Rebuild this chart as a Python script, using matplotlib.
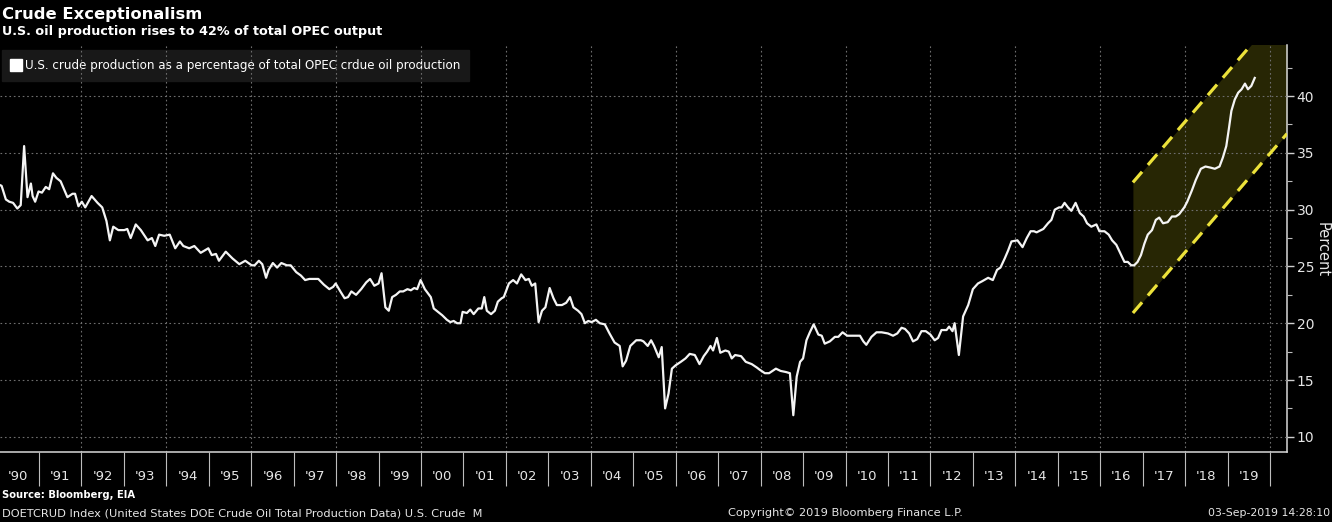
import matplotlib

matplotlib.use("Agg")
import matplotlib.pyplot as plt
from matplotlib.lines import Line2D
from matplotlib.ticker import FixedLocator, MultipleLocator, NullFormatter

# U.S. crude production as % of total OPEC crude production
dates = [
    1990.06, 1990.12, 1990.22, 1990.30, 1990.39, 1990.49, 1990.57, 1990.65, 1990.73, 1990.81,
    1990.85, 1990.91, 1990.99, 1991.07, 1991.16, 1991.24, 1991.33, 1991.41, 1991.51, 1991.67,
    1991.79, 1991.85, 1991.93, 1992.01, 1992.09, 1992.24, 1992.38, 1992.49, 1992.59, 1992.67,
    1992.75, 1992.87, 1993.01, 1993.08, 1993.16, 1993.28, 1993.40, 1993.56, 1993.66, 1993.74,
    1993.83, 1993.95, 1994.08, 1994.21, 1994.32, 1994.40, 1994.54, 1994.66, 1994.81, 1994.99,
    1995.07, 1995.17, 1995.24, 1995.40, 1995.56, 1995.72, 1995.86, 1996.01,
    1996.08, 1996.18, 1996.26, 1996.35, 1996.41, 1996.51, 1996.61, 1996.71, 1996.84, 1996.93,
    1997.06, 1997.17, 1997.27, 1997.37, 1997.58, 1997.71, 1997.84, 1997.93, 1997.99, 1998.10,
    1998.20, 1998.28, 1998.36, 1998.47, 1998.59, 1998.71, 1998.80, 1998.90, 1999.00, 1999.07,
    1999.16, 1999.24, 1999.32, 1999.41, 1999.50, 1999.58, 1999.68, 1999.76, 1999.84, 1999.91,
    1999.99, 2000.09, 2000.23, 2000.30, 2000.40, 2000.50, 2000.61, 2000.69, 2000.77, 2000.85,
    2000.93, 2000.98, 2001.08, 2001.16, 2001.24, 2001.35, 2001.43, 2001.49, 2001.55, 2001.65,
    2001.74, 2001.81, 2001.90,
    2001.95, 2002.07, 2002.17, 2002.26, 2002.36, 2002.46, 2002.54, 2002.61, 2002.69, 2002.77,
    2002.85, 2002.93, 2003.03, 2003.12, 2003.20, 2003.32, 2003.42, 2003.51, 2003.59, 2003.70,
    2003.78, 2003.86, 2003.94, 2004.02, 2004.12, 2004.21, 2004.33, 2004.44, 2004.56, 2004.68,
    2004.75, 2004.83, 2004.93, 2005.07, 2005.18, 2005.24, 2005.34, 2005.42, 2005.49, 2005.60,
    2005.67, 2005.75, 2005.83, 2005.91, 2006.00, 2006.12, 2006.23, 2006.33, 2006.45, 2006.56,
    2006.66, 2006.74, 2006.82, 2006.88, 2006.97, 2007.05, 2007.17, 2007.25, 2007.32, 2007.40,
    2007.54, 2007.65, 2007.79, 2007.91,
    2007.98, 2008.10, 2008.20, 2008.36, 2008.47, 2008.60, 2008.69, 2008.77, 2008.85, 2008.93,
    2009.00, 2009.08, 2009.16, 2009.25, 2009.36, 2009.44, 2009.51, 2009.63, 2009.75, 2009.83,
    2009.93, 2010.04, 2010.16, 2010.34, 2010.42, 2010.49, 2010.61, 2010.73, 2010.85, 2011.00,
    2011.12, 2011.22, 2011.32, 2011.40, 2011.50, 2011.59, 2011.69, 2011.79, 2011.89, 2012.00,
    2012.10, 2012.18, 2012.26, 2012.38, 2012.44, 2012.52, 2012.57, 2012.67, 2012.77, 2012.89,
    2013.00, 2013.12, 2013.22, 2013.36, 2013.47, 2013.57, 2013.65, 2013.75, 2013.83, 2013.91,
    2014.05, 2014.17, 2014.27, 2014.36, 2014.44, 2014.50, 2014.66, 2014.77, 2014.85, 2014.93,
    2015.03, 2015.09, 2015.16, 2015.24, 2015.32, 2015.42, 2015.52, 2015.61, 2015.69, 2015.79,
    2015.91, 2015.98, 2016.10, 2016.20, 2016.28, 2016.38, 2016.47, 2016.57, 2016.65, 2016.73,
    2016.80, 2016.88, 2016.96, 2017.04, 2017.12, 2017.22, 2017.31, 2017.39, 2017.48, 2017.59,
    2017.69, 2017.78, 2017.86, 2017.98, 2018.05, 2018.16, 2018.25, 2018.37, 2018.48, 2018.60,
    2018.70, 2018.81, 2018.89, 2018.97, 2019.03, 2019.09, 2019.17, 2019.25, 2019.33, 2019.41,
    2019.48, 2019.56, 2019.64,
]
pct = [
    32.2, 32.1, 30.9, 30.7, 30.6, 30.1, 30.4, 35.6, 31.1, 32.3,
    31.2, 30.7, 31.6, 31.5, 32.0, 31.8, 33.2, 32.8, 32.5, 31.1,
    31.4, 31.4, 30.3, 30.7, 30.2, 31.2, 30.6, 30.2, 29.0, 27.3,
    28.5, 28.2, 28.2, 28.3, 27.5, 28.7, 28.2, 27.3, 27.5, 26.8,
    27.8, 27.7, 27.8, 26.6, 27.2, 26.8, 26.6, 26.8, 26.2, 26.6,
    26.0, 26.1, 25.5, 26.3, 25.7, 25.2, 25.5, 25.1,
    25.1, 25.5, 25.2, 24.0, 24.7, 25.3, 24.9, 25.3, 25.1, 25.1,
    24.5, 24.2, 23.8, 23.9, 23.9, 23.4, 23.0, 23.2, 23.5, 22.8,
    22.2, 22.3, 22.8, 22.5, 23.0, 23.6, 23.9, 23.3, 23.5, 24.4,
    21.4, 21.1, 22.3, 22.5, 22.8, 22.8, 23.0, 22.9, 23.1, 23.0,
    23.8, 23.0, 22.3, 21.3, 21.0, 20.7, 20.3, 20.1, 20.2, 20.0,
    20.0, 21.0, 20.9, 21.2, 20.8, 21.3, 21.3, 22.3, 21.1, 20.8,
    21.1, 21.9, 22.2,
    22.3, 23.5, 23.8, 23.5, 24.3, 23.8, 23.9, 23.3, 23.5, 20.1,
    21.1, 21.4, 23.1, 22.2, 21.6, 21.6, 21.8, 22.3, 21.4, 21.1,
    20.8, 20.0, 20.2, 20.1, 20.3, 20.0, 19.9, 19.1, 18.3, 18.0,
    16.2, 16.7, 18.0, 18.5, 18.5, 18.4, 18.0, 18.5, 18.0, 17.0,
    17.9, 12.5, 13.8, 16.0, 16.3, 16.6, 16.9, 17.3, 17.2, 16.4,
    17.1, 17.5, 18.0, 17.6, 18.7, 17.4, 17.6, 17.5, 16.9, 17.2,
    17.1, 16.6, 16.4, 16.1,
    15.9, 15.6, 15.6, 16.0, 15.8, 15.7, 15.6, 11.9, 15.3, 16.6,
    16.9, 18.5, 19.2, 19.9, 19.0, 18.9, 18.2, 18.4, 18.8, 18.8,
    19.2, 18.9, 18.9, 18.9, 18.4, 18.1, 18.8, 19.2, 19.2, 19.1,
    18.9, 19.1, 19.6, 19.5, 19.1, 18.4, 18.6, 19.3, 19.3, 19.0,
    18.5, 18.7, 19.4, 19.4, 19.7, 19.3, 20.0, 17.2, 20.6, 21.6,
    23.0, 23.5, 23.7, 24.0, 23.8, 24.7, 24.9, 25.7, 26.4, 27.2,
    27.3, 26.7, 27.5, 28.1, 28.1, 28.0, 28.3, 28.8, 29.1, 30.0,
    30.2, 30.2, 30.6, 30.2, 29.9, 30.6, 29.7, 29.4, 28.8, 28.5,
    28.7, 28.1, 28.1, 27.8, 27.3, 26.9, 26.2, 25.4, 25.4, 25.1,
    25.1, 25.4, 26.0, 27.0, 27.8, 28.2, 29.1, 29.3, 28.8, 28.9,
    29.4, 29.4, 29.6, 30.2, 30.7, 31.7, 32.6, 33.6, 33.8, 33.7,
    33.6, 33.8, 34.6, 35.6, 37.1, 38.7, 39.7, 40.3, 40.6, 41.1,
    40.6, 40.9, 41.6,
]

# trend channel drawn over the 2016-2019 run-up
channel_start = 2016.77
channel_end = 2020.40
channel_low = 20.9
channel_high = 32.4
channel_slope = 4.35  # percentage points per year

year_labels = [
    "'90", "'91", "'92", "'93", "'94", "'95", "'96", "'97", "'98", "'99",
    "'00", "'01", "'02", "'03", "'04", "'05", "'06", "'07", "'08", "'09",
    "'10", "'11", "'12", "'13", "'14", "'15", "'16", "'17", "'18", "'19",
]
y_ticks = [10, 15, 20, 25, 30, 35, 40]

BG = "#000000"
FG = "#e6e6e6"
GRID = "#6e6e6e"
YELLOW = "#ece23a"

W, H = 1332, 522
fig = plt.figure(figsize=(W / 100, H / 100), dpi=100, facecolor=BG)
ax = fig.add_axes([0, 70 / H, 1287 / W, 407 / H], facecolor=BG)

ax.set_xlim(1990.082, 2020.40)
ax.set_ylim(8.66, 44.5)

# channel
span = channel_end - channel_start
xs = [channel_start, channel_end]
lows = [channel_low, channel_low + channel_slope * span]
highs = [channel_high, channel_high + channel_slope * span]
ax.fill_between(xs, lows, highs, color="#272604", linewidth=0, zorder=1)
for ys in (lows, highs):
    ax.plot(xs, ys, color=YELLOW, linewidth=2.3, linestyle=(0, (4.4, 2.8)),
            dash_capstyle="butt", zorder=4)

# main series
ax.plot(dates, pct, color="#f4f4f4", linewidth=1.6, zorder=3,
        solid_joinstyle="round")

# grid: horizontal at the major y ticks, vertical every two years
ax.set_axisbelow(False)
ax.grid(axis="y", color=GRID, linestyle=(0, (1.5, 2.5)), linewidth=0.8)
for yr in range(1992, 2021, 2):
    ax.axvline(yr, color=GRID, linestyle=(0, (1.5, 2.5)), linewidth=0.8, zorder=2.5)

# x axis: separators at year boundaries, labels centred in each year
ax.xaxis.set_major_locator(FixedLocator(list(range(1991, 2021))))
ax.xaxis.set_major_formatter(NullFormatter())
ax.xaxis.set_minor_locator(FixedLocator([1990.5 + i for i in range(len(year_labels))]))
ax.set_xticklabels(year_labels, minor=True)
ax.tick_params(axis="x", which="major", direction="out", length=24.5, width=0.8,
               color="#bdbdbd")
ax.tick_params(axis="x", which="minor", length=0, pad=13, labelsize=9.5,
               labelcolor=FG)

# y axis on the right
ax.yaxis.tick_right()
ax.yaxis.set_major_locator(FixedLocator(y_ticks))
ax.yaxis.set_minor_locator(MultipleLocator(2.5))
ax.tick_params(axis="y", which="major", direction="out", length=5, width=1,
               color="#cfcfcf", labelsize=10, labelcolor=FG, pad=2)
ax.tick_params(axis="y", which="minor", direction="out", length=3.5, width=0.8,
               color="#bdbdbd")

for side in ("top", "left"):
    ax.spines[side].set_visible(False)
for side in ("right", "bottom"):
    ax.spines[side].set_color("#d8d8d8")
    ax.spines[side].set_linewidth(1.1)

fig.text(1322 / W, 1 - 250 / H, "Percent", rotation=270, ha="center", va="center",
         color=FG, fontsize=10.5)

# legend
handle = Line2D([], [], marker="s", color="white", linestyle="none", markersize=8)
leg = ax.legend([handle], ["U.S. crude production as a percentage of total OPEC crdue oil production"],
                loc="upper left", bbox_to_anchor=(2 / 1287, 1 - 5 / 407),
                frameon=True, fancybox=False, facecolor="#181818", edgecolor="#181818",
                framealpha=1, fontsize=8.55, labelcolor="white", handlelength=0.8,
                handletextpad=0.35, borderpad=0.75, borderaxespad=0)
leg.set_zorder(0.5)

# titles and footer
fig.text(2 / W, 1 - 14 / H, "Crude Exceptionalism", color="white", fontsize=11.8,
         fontweight="bold", ha="left", va="center")
fig.text(2 / W, 1 - 32 / H, "U.S. oil production rises to 42% of total OPEC output",
         color="white", fontsize=9.2, fontweight="bold", ha="left", va="center")
fig.text(2 / W, 1 - 495 / H, "Source: Bloomberg, EIA", color="white", fontsize=7.2,
         fontweight="bold", ha="left", va="center")
fig.text(2 / W, 1 - 513 / H,
         "DOETCRUD Index (United States DOE Crude Oil Total Production Data) U.S. Crude  M",
         color=FG, fontsize=8.2, ha="left", va="center")
fig.text(845 / W, 1 - 513 / H, "Copyright\u00a9 2019 Bloomberg Finance L.P.", color=FG,
         fontsize=8.2, ha="center", va="center")
fig.text(1330 / W, 1 - 513 / H, "03-Sep-2019 14:28:10", color=FG, fontsize=7.8,
         ha="right", va="center")

fig.savefig("out.png", dpi=100, facecolor=BG)
